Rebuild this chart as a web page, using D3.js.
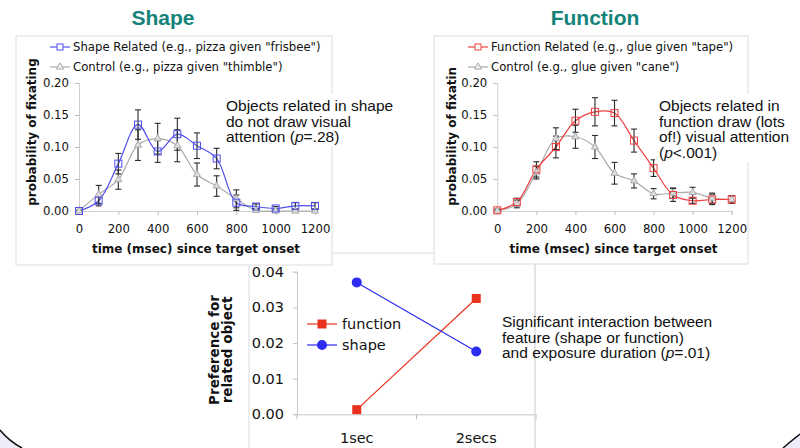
<!DOCTYPE html>
<html>
<head>
<meta charset="utf-8">
<script src="https://cdn.jsdelivr.net/npm/d3@7"></script>
<style>
  body { margin: 0; background: #fff; }
  svg { display: block; }
  .tick text { font-family: "DejaVu Sans", Verdana, sans-serif; fill: #111; }
  .note { font-family: "Liberation Sans", Arial, sans-serif; font-size: 15.5px; fill: #111; }
</style>
</head>
<body>
<svg id="chart" width="800" height="448"></svg>
<script>
// time bins (msec) for the two top panels
var times = [0, 100, 200, 300, 400, 500, 600, 700, 800, 900, 1000, 1100, 1200];
var xTicks = [0, 200, 400, 600, 800, 1000, 1200];
var yTicks = [0, 0.05, 0.10, 0.15, 0.20];

// shape panel
var shapeRelated    = [0.000, 0.016, 0.074, 0.135, 0.093, 0.120, 0.102, 0.082, 0.013, 0.007, 0.004, 0.008, 0.008];
var shapeRelatedErr = [0.001, 0.008, 0.016, 0.023, 0.017, 0.025, 0.020, 0.016, 0.012, 0.004, 0.003, 0.005, 0.005];
var shapeControl    = [0.000, 0.026, 0.049, 0.103, 0.113, 0.102, 0.057, 0.039, 0.019, 0.001, 0.000, 0.000, 0.000];
var shapeControlErr = [0.001, 0.014, 0.015, 0.024, 0.024, 0.025, 0.018, 0.016, 0.014, 0.003, 0.002, 0.003, 0.003];

// function panel
var funcRelated     = [0.001, 0.014, 0.065, 0.100, 0.141, 0.155, 0.153, 0.110, 0.067, 0.025, 0.016, 0.018, 0.018];
var funcRelatedErr  = [0.002, 0.006, 0.012, 0.017, 0.018, 0.022, 0.020, 0.018, 0.013, 0.010, 0.004, 0.008, 0.006];
var funcControl     = [0.000, 0.011, 0.060, 0.113, 0.116, 0.100, 0.059, 0.047, 0.027, 0.028, 0.029, 0.020, 0.018];
var funcControlErr  = [0.002, 0.006, 0.010, 0.017, 0.018, 0.018, 0.017, 0.011, 0.008, 0.008, 0.008, 0.008, 0.006];

// bottom interaction chart
var durations = ["1sec", "2secs"];
var functionPref = [0.0013, 0.0325];
var shapePref = [0.0370, 0.0176];
var prefTicks = [0, 0.01, 0.02, 0.03, 0.04];

var svg = d3.select("#chart");
svg.append("rect").attr("width", 800).attr("height", 448).attr("fill", "#fff");

// slide corners at the bottom
svg.append("path")
  .attr("d", "M0,430 Q9,441 22,448 L0,448 Z")
  .attr("fill", "#ececfa").attr("stroke", "none");
svg.append("path")
  .attr("d", "M0,430 Q9,441 22,448")
  .attr("fill", "none").attr("stroke", "#111").attr("stroke-width", 1.5);
svg.append("path")
  .attr("d", "M800,434 Q791,441 783,448 L800,448 Z")
  .attr("fill", "#ececfa").attr("stroke", "none");
svg.append("path")
  .attr("d", "M800,434 Q791,441 783,448")
  .attr("fill", "none").attr("stroke", "#111").attr("stroke-width", 1.5);

//---------------- bottom chart (drawn first, top panels sit over its frame)
var bx = d3.scaleBand().domain(durations).range([297, 536]);
var by = d3.scaleLinear().domain([0, 0.04]).range([414.3, 271.7]);

svg.append("rect")
  .attr("x", 249).attr("y", 253).attr("width", 286).attr("height", 210)
  .attr("fill", "#fff").attr("stroke", "#dcdcdc");

var byAxis = svg.append("g")
  .attr("transform", "translate(297,0)")
  .call(d3.axisLeft(by).tickValues(prefTicks).tickFormat(d3.format(".2f")).tickSize(4).tickPadding(9));
byAxis.selectAll("text").style("font-size", "14.5px");

var bxAxis = svg.append("g")
  .attr("transform", "translate(0,414.3)")
  .call(d3.axisBottom(bx).tickSize(0).tickPadding(18));
bxAxis.selectAll("text").style("font-size", "14.5px");
// ticks between categories
bxAxis.selectAll(".sep")
  .data([297, 416.5, 536])
  .enter().append("line")
    .attr("class", "sep")
    .attr("x1", function(d) { return d; }).attr("x2", function(d) { return d; })
    .attr("y1", 0).attr("y2", 5)
    .attr("stroke", "#bbb");
svg.selectAll(".domain").attr("stroke", "#c8c8c8");
svg.selectAll(".tick line").attr("stroke", "#c8c8c8");

svg.append("line")
  .attr("x1", 535).attr("x2", 535).attr("y1", 253).attr("y2", 448)
  .attr("stroke", "#dcdcdc");

var prefSeries = [
  {name: "function", values: functionPref, color: "#e8321e", shape: "square"},
  {name: "shape", values: shapePref, color: "#2b2bf2", shape: "circle"}
];

prefSeries.forEach(function(s, i) {
  svg.append("path")
    .datum(s.values)
    .attr("fill", "none")
    .attr("stroke", s.color)
    .attr("stroke-width", 1.2)
    .attr("d", d3.line()
      .x(function(d, j) { return bx(durations[j]) + bx.bandwidth() / 2; })
      .y(function(d) { return by(d); }));

  var pts = svg.selectAll(".pt" + i)
    .data(s.values)
    .enter();
  if (s.shape === "square") {
    pts.append("rect")
      .attr("x", function(d, j) { return bx(durations[j]) + bx.bandwidth() / 2 - 4.5; })
      .attr("y", function(d) { return by(d) - 4.5; })
      .attr("width", 9).attr("height", 9)
      .attr("fill", s.color);
  } else {
    pts.append("circle")
      .attr("cx", function(d, j) { return bx(durations[j]) + bx.bandwidth() / 2; })
      .attr("cy", function(d) { return by(d); })
      .attr("r", 5)
      .attr("fill", s.color);
  }

  // legend
  var ly = 324 + i * 21;
  svg.append("line")
    .attr("x1", 307).attr("x2", 337).attr("y1", ly).attr("y2", ly)
    .attr("stroke", s.color).attr("stroke-width", 1.2);
  if (s.shape === "square") {
    svg.append("rect").attr("x", 317.5).attr("y", ly - 4.5).attr("width", 9).attr("height", 9).attr("fill", s.color);
  } else {
    svg.append("circle").attr("cx", 322).attr("cy", ly).attr("r", 5).attr("fill", s.color);
  }
  svg.append("text")
    .attr("x", 342).attr("y", ly).attr("dy", "0.35em")
    .style("font-family", "DejaVu Sans, Verdana, sans-serif")
    .style("font-size", "14.5px").attr("fill", "#111")
    .text(s.name);
});

// y label of the bottom chart
var bLab = svg.append("text")
  .attr("transform", "translate(0,350) rotate(-90)")
  .attr("text-anchor", "middle")
  .style("font-family", "DejaVu Sans, Verdana, sans-serif")
  .style("font-size", "13.5px").style("font-weight", "bold").attr("fill", "#111");
bLab.append("tspan").attr("x", 0).attr("y", 219).text("Preference for");
bLab.append("tspan").attr("x", 0).attr("y", 232).text("related object");

svg.append("text").attr("class", "note")
  .selectAll("tspan")
  .data(["Significant interaction between", "feature (shape or function)", "and exposure duration (p=.01)"])
  .enter().append("tspan")
    .attr("x", 502)
    .attr("y", function(d, i) { return 327 + i * 15.5; })
    .html(function(d) { return d.replace("(p=", "(<tspan font-style='italic'>p</tspan>="); });

//---------------- top panels
function drawPanel(cfg) {
  var x = d3.scaleLinear().domain([0, 1200]).range([cfg.x0, cfg.x1]);
  var y = d3.scaleLinear().domain([0, 0.2]).range([211, 83]);
  var g = svg.append("g");

  // frame
  g.append("rect")
    .attr("x", cfg.left).attr("y", 36).attr("width", cfg.width).attr("height", cfg.height)
    .attr("fill", "#fff").attr("stroke", "#dcdcdc");

  // title
  svg.append("text")
    .attr("x", cfg.titleX).attr("y", 25)
    .attr("text-anchor", "middle")
    .style("font-family", "Liberation Sans, Arial, sans-serif")
    .style("font-size", "21px").style("font-weight", "bold")
    .attr("fill", "#14837a")
    .text(cfg.title);

  var yAxis = g.append("g")
    .attr("transform", "translate(" + cfg.x0 + ",0)")
    .call(d3.axisLeft(y).tickValues(yTicks).tickFormat(d3.format(".2f")).tickSize(4).tickPadding(6));
  var xAxis = g.append("g")
    .attr("transform", "translate(0,211)")
    .call(d3.axisBottom(x).tickValues(xTicks).tickFormat(d3.format("d")).tickSize(4).tickPadding(10));
  g.selectAll(".tick text").style("font-size", "11.7px");
  g.selectAll(".domain").attr("stroke", "#cfcfcf");
  g.selectAll(".tick line").attr("stroke", "#bdbdbd");

  // axis titles
  g.append("text")
    .attr("x", (cfg.x0 + cfg.x1) / 2 - 1).attr("y", 253)
    .attr("text-anchor", "middle")
    .style("font-family", "DejaVu Sans, Verdana, sans-serif")
    .style("font-size", "12px").style("font-weight", "bold").attr("fill", "#111")
    .text("time (msec) since target onset");

  g.append("text")
    .attr("transform", "translate(" + cfg.labelX + ",132) rotate(-90)")
    .attr("text-anchor", "middle")
    .style("font-family", "DejaVu Sans, Verdana, sans-serif")
    .style("font-size", "12px").style("font-weight", "bold").attr("fill", "#111")
    .text("probability of fixating");
  // the legend block hides the top of the label in the function panel
  if (cfg.labelTop > 57) {
    g.append("rect")
      .attr("x", cfg.left + 2).attr("y", 56).attr("width", 30).attr("height", cfg.labelTop - 56)
      .attr("fill", "#fff");
  }

  var line = d3.line()
    .curve(d3.curveCatmullRom.alpha(0.5))
    .x(function(d, i) { return x(times[i]); })
    .y(function(d) { return y(d); });

  var series = [
    {values: cfg.control, err: cfg.controlErr, color: "#aaaaaa", marker: "tri"},
    {values: cfg.related, err: cfg.relatedErr, color: cfg.color, marker: "sq"}
  ];

  series.forEach(function(s) {
    g.append("path").datum(s.values)
      .attr("fill", "none").attr("stroke", s.color).attr("stroke-width", 1.2)
      .attr("d", line);
  });

  // error bars
  series.forEach(function(s) {
    var eb = g.selectAll(null).data(s.values).enter().append("g").attr("stroke", "#2a2a2a").attr("stroke-width", 1.1);
    eb.append("line")
      .attr("x1", function(d, i) { return x(times[i]); })
      .attr("x2", function(d, i) { return x(times[i]); })
      .attr("y1", function(d, i) { return y(d + s.err[i]); })
      .attr("y2", function(d, i) { return y(Math.max(0, d - s.err[i])); });
    eb.append("line")
      .attr("x1", function(d, i) { return x(times[i]) - 3; })
      .attr("x2", function(d, i) { return x(times[i]) + 3; })
      .attr("y1", function(d, i) { return y(d + s.err[i]); })
      .attr("y2", function(d, i) { return y(d + s.err[i]); });
    eb.append("line")
      .attr("x1", function(d, i) { return x(times[i]) - 3; })
      .attr("x2", function(d, i) { return x(times[i]) + 3; })
      .attr("y1", function(d, i) { return y(Math.max(0, d - s.err[i])); })
      .attr("y2", function(d, i) { return y(Math.max(0, d - s.err[i])); });
  });

  // markers
  var tri = d3.symbol().type(d3.symbolTriangle).size(22);
  series.forEach(function(s) {
    if (s.marker === "tri") {
      g.selectAll(null).data(s.values).enter().append("path")
        .attr("d", tri)
        .attr("transform", function(d, i) { return "translate(" + x(times[i]) + "," + y(d) + ")"; })
        .attr("fill", "#ddd").attr("stroke", s.color);
    } else {
      g.selectAll(null).data(s.values).enter().append("rect")
        .attr("x", function(d, i) { return x(times[i]) - 3.5; })
        .attr("y", function(d) { return y(d) - 3.5; })
        .attr("width", 7).attr("height", 7)
        .attr("fill", "none").attr("stroke", s.color).attr("stroke-width", 1);
    }
  });

  // legend
  var legend = [
    {label: cfg.relatedLabel, color: cfg.color, marker: "sq"},
    {label: cfg.controlLabel, color: "#aaaaaa", marker: "tri"}
  ];
  legend.forEach(function(l, i) {
    var ly = 47 + i * 20;
    g.append("line")
      .attr("x1", cfg.legX).attr("x2", cfg.legX + 20).attr("y1", ly).attr("y2", ly)
      .attr("stroke", l.color).attr("stroke-width", 1.2);
    if (l.marker === "sq") {
      g.append("rect").attr("x", cfg.legX + 7).attr("y", ly - 3).attr("width", 6).attr("height", 6)
        .attr("fill", "#fff").attr("stroke", l.color);
    } else {
      g.append("path").attr("d", tri).attr("transform", "translate(" + (cfg.legX + 10) + "," + ly + ")")
        .attr("fill", "#eee").attr("stroke", l.color);
    }
    g.append("text")
      .attr("x", cfg.legX + 23).attr("y", ly).attr("dy", "0.35em")
      .style("font-family", "DejaVu Sans, Verdana, sans-serif")
      .style("font-size", "11.7px").attr("fill", "#111")
      .text(l.label);
  });

  // annotation sits on a white box over the frame
  g.append("rect")
    .attr("x", cfg.noteX - 4).attr("y", 94).attr("width", 800 - cfg.noteX + 4).attr("height", cfg.noteLines.length * 15.5 + 6)
    .attr("fill", "#fff");
  g.append("text").attr("class", "note")
    .selectAll("tspan")
    .data(cfg.noteLines)
    .enter().append("tspan")
      .attr("x", cfg.noteX)
      .attr("y", function(d, i) { return 111 + i * 15.5; })
      .html(function(d) { return d.replace(/\(p([=<])/, "(<tspan font-style='italic'>p</tspan>$1"); });
}

drawPanel({
  title: "Shape", titleX: 163,
  left: 16, width: 316, height: 229,
  x0: 79, x1: 315, labelX: 36, labelTop: 40,
  legX: 50,
  related: shapeRelated, relatedErr: shapeRelatedErr,
  control: shapeControl, controlErr: shapeControlErr,
  color: "#5050ee",
  relatedLabel: "Shape Related (e.g., pizza given \"frisbee\")",
  controlLabel: "Control (e.g., pizza given \"thimble\")",
  noteX: 226,
  noteLines: ["Objects related in shape", "do not draw visual", "attention (p=.28)"]
});

drawPanel({
  title: "Function", titleX: 595,
  left: 434, width: 314, height: 228,
  x0: 497.3, x1: 731.7, labelX: 456, labelTop: 67,
  legX: 468,
  related: funcRelated, relatedErr: funcRelatedErr,
  control: funcControl, controlErr: funcControlErr,
  color: "#ee4040",
  relatedLabel: "Function Related (e.g., glue given \"tape\")",
  controlLabel: "Control (e.g., glue given \"cane\")",
  noteX: 659,
  noteLines: ["Objects related in", "function draw (lots", "of!) visual attention", "(p<.001)"]
});
</script>
</body>
</html>
